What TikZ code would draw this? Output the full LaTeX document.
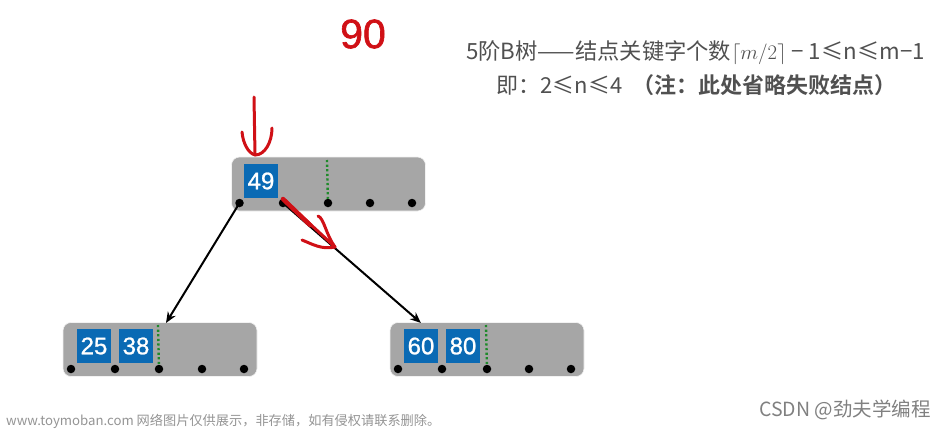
\documentclass[tikz,border=0pt]{standalone}
\usepackage{fontspec}
\setmainfont{Liberation Sans}
\newfontfamily\cjk{Noto Sans CJK SC}
\newfontfamily\cjkb{Noto Sans CJK SC Bold}
\newfontfamily\handfont[FakeBold=1.5]{Liberation Sans}
\newfontfamily\keyfont[FakeBold=1]{Liberation Sans}
\usetikzlibrary{arrows.meta}
\definecolor{boxgray}{HTML}{A6A6A6}
\definecolor{keyblue}{HTML}{0A6AB4}
\definecolor{inkred}{HTML}{D01016}
\definecolor{notegray}{HTML}{505050}
\definecolor{dotgreen}{HTML}{1F8A2A}
\tikzset{
  x=1pt,y=-1pt,
  nodebox/.style={draw=white!85!boxgray,line width=.6pt,fill=boxgray,rounded corners=8pt,minimum width=194pt,minimum height=54pt,inner sep=0pt,outer sep=0pt},
  keybox/.style={fill=keyblue,text=white,minimum size=34pt,inner sep=0pt,font=\keyfont\fontsize{24}{24}\selectfont},
  pdot/.style={circle,fill=black,minimum size=8.5pt,inner sep=0pt,outer sep=0pt},
  divider/.style={dotgreen,line width=2.4pt,dash pattern=on 2.2pt off 2.4pt},
  link/.style={black,line width=2pt,-{Stealth[length=11pt,width=9pt]}},
  ink/.style={inkred,line width=3pt,line cap=round,line join=round},
  notetext/.style={text=notegray,inner sep=0pt,anchor=center},
  mark1/.style={inner sep=0pt}
}
\begin{document}
\begin{tikzpicture}
\useasboundingbox (0,0) rectangle (946,429);
% root
\node[nodebox] (root) at (328.5,184) {};
\node[keybox] (k49) at (261,181) {49};
\foreach \n/\x in {r0/239.5,r1/283,r2/328,r3/370,r4/412}
  \node[pdot] (\n) at (\x,203) {};
\coordinate (rdt) at (327,160);
\draw[divider] (rdt) -- (r2);
% left
\node[nodebox] (left) at (160,349.5) {};
\node[keybox] (k25) at (94,346) {25};
\node[keybox] (k38) at (136,346) {38};
\foreach \n/\x in {l0/71,l1/115,l2/159,l3/202,l4/244}
  \node[pdot] (\n) at (\x,369) {};
\coordinate (ldt) at (158,325);
\draw[divider] (ldt) -- (l2);
% right
\node[nodebox] (right) at (487,349.5) {};
\node[keybox] (k60) at (421,346) {60};
\node[keybox] (k80) at (463,346) {80};
\foreach \n/\x in {q0/398,q1/442,q2/487,q3/529,q4/571}
  \node[pdot] (\n) at (\x,369) {};
\coordinate (qdt) at (486,325);
\draw[divider] (qdt) -- (q2);
% links
\coordinate (la) at (166,323);
\coordinate (ra) at (421,323);
\draw[link] (r0.center) -- (la);
\draw[link] (r1.center) -- (ra);
% red ink
\coordinate (a1) at (254,97);
\coordinate (a2) at (255,155);
\draw[ink] (a1) -- (a2);
\draw[ink] (242,132) .. controls (243,143) and (248,153) .. (a2) .. controls (265,155) and (272,142) .. (272,128);
\coordinate (b1) at (283,199);
\coordinate (b2) at (335,247);
\draw[ink,line width=4.5pt] (b1) -- (310,225);
\draw[ink] (b1) -- (b2);
\draw[ink] (318,216) .. controls (324,218) and (326,235) .. (b2) .. controls (322,250) and (312,244) .. (302,240);
\node[mark1,text=inkred,font=\handfont\fontsize{41}{41}\selectfont] (hand) at (363,34) {90};
% notes
\node[notetext,font=\cjk\fontsize{22.3}{26}\selectfont] (line1) at (695.5,53)
  {5阶B树——结点关键字个数$\lceil m/2\rceil$ − 1≤n≤m−1};
\node[notetext,font=\cjk\fontsize{22}{26}\selectfont] (line2) at (690,85)
  {\hspace{13pt}即：2≤n≤4 \ {\cjkb（注：此处省略失败结点）}};
% watermarks
\node[inner sep=0pt,anchor=west,text=black!42,font=\cjk\fontsize{13.2}{14}\selectfont] (wm1) at (6,421)
  {www.toymoban.com 网络图片仅供展示，非存储，如有侵权请联系删除。};
\node[inner sep=0pt,anchor=east,text=black!50,font=\cjk\fontsize{19.5}{20}\selectfont] (wm2) at (931,410)
  {CSDN @劲夫学编程};
\end{tikzpicture}
\end{document}
